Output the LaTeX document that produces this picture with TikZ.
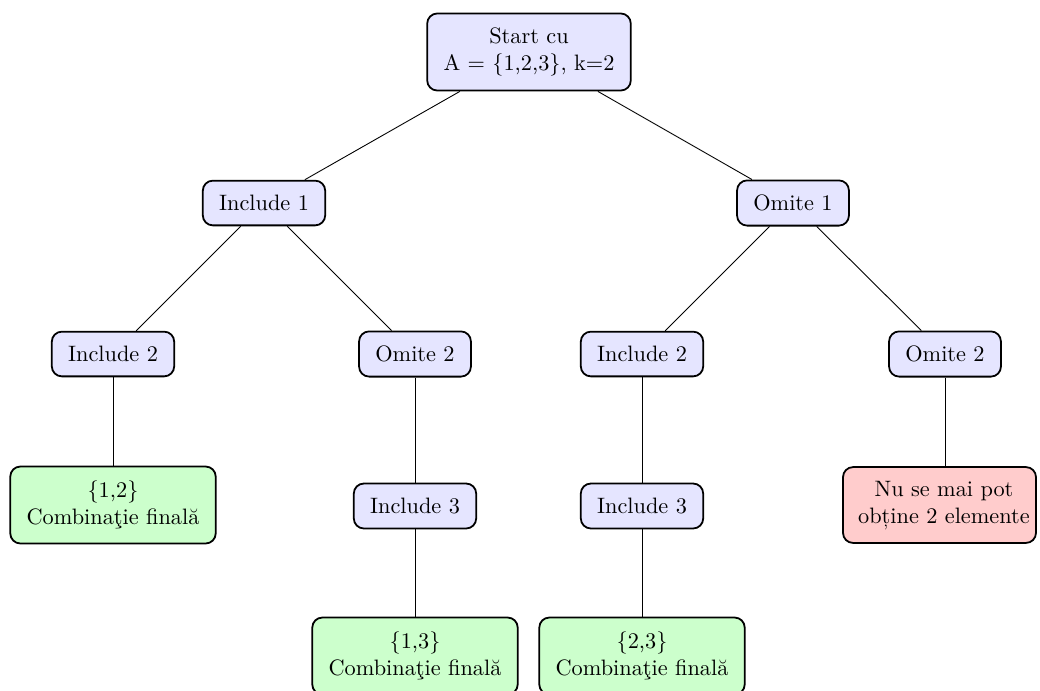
\documentclass[tikz,border=0pt]{standalone}
\usepackage{fontspec}
\begin{document}
\begin{tikzpicture}[x=0.4484pt, y=-0.4484pt]
\tikzset{
  box/.style={draw, thick, rounded corners=4.5pt, align=center, inner xsep=7.3pt, inner ysep=6.5pt},
  stepbox/.style={box, fill=blue!10},
  finalbox/.style={box, fill=green!20},
  deadbox/.style={box, fill=red!20},
  link/.style={draw, line width=0.4pt}
}
\useasboundingbox (0,0) rectangle (1040,690);

% decision tree for choosing k=2 elements out of {1,2,3}
\node[stepbox] (root) at (529,52) {Start cu\\ A = \{1,2,3\}, k=2};

\node[stepbox] (inc1) at (264,203) {Include 1};
\node[stepbox] (om1)  at (793,203) {Omite 1};

\node[stepbox] (inc2a) at (113,354) {Include 2};
\node[stepbox] (om2a)  at (415,354) {Omite 2};
\node[stepbox] (inc2b) at (642,354) {Include 2};
\node[stepbox] (om2b)  at (945,354) {Omite 2};

\node[finalbox] (c12) at (113,505) {\{1,2\}\\ Combinaţie finală};
\node[stepbox] (inc3a) at (415,506) {Include 3};
\node[stepbox] (inc3b) at (642,506) {Include 3};
\node[deadbox, inner xsep=0pt, inner ysep=5pt] (dead) at (939.5,505)
  {\hspace*{6.8pt}\begin{tabular}{@{}c@{}}Nu se mai pot\\ obține 2 elemente\end{tabular}\hspace*{2.8pt}};

\node[finalbox] (c13) at (415,656) {\{1,3\}\\ Combinaţie finală};
\node[finalbox] (c23) at (642,656) {\{2,3\}\\ Combinaţie finală};

% branches
\draw[link] (root) -- (inc1);
\draw[link] (root) -- (om1);
\draw[link] (inc1) -- (inc2a);
\draw[link] (inc1) -- (om2a);
\draw[link] (om1) -- (inc2b);
\draw[link] (om1) -- (om2b);
\draw[link] (inc2a) -- (c12);
\draw[link] (om2a) -- (inc3a);
\draw[link] (inc3a) -- (c13);
\draw[link] (inc2b) -- (inc3b);
\draw[link] (inc3b) -- (c23);
\draw[link] (om2b.south) -- (om2b.south |- dead.north);
\end{tikzpicture}
\end{document}
